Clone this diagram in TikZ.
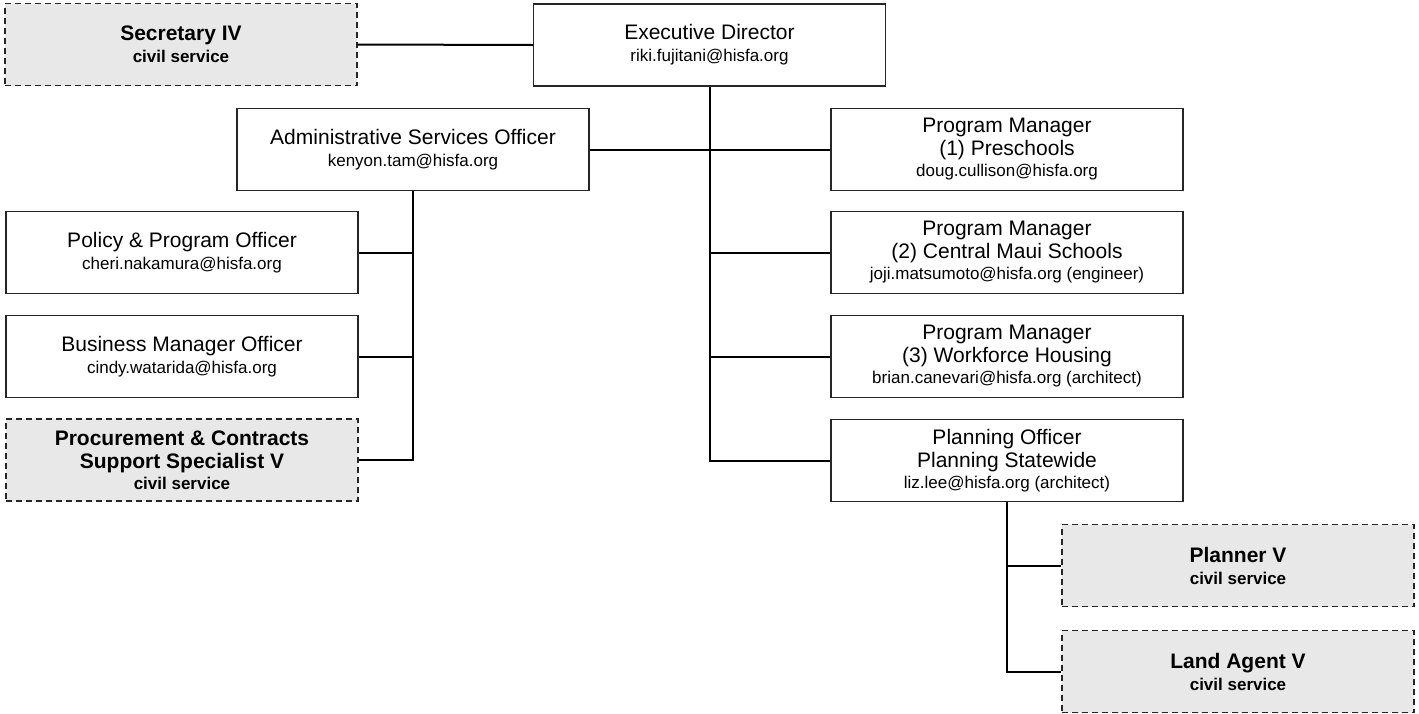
\documentclass[tikz,border=0pt]{standalone}
\usepackage{fontspec}
\setmainfont{Liberation Sans}
\usetikzlibrary{positioning}
\newcommand{\ttl}{\fontsize{21}{23}\selectfont}
\newcommand{\sml}{\fontsize{17}{20}\selectfont}
\newcommand{\mail}[1]{{\sml #1}}
\tikzset{
  orgbox/.style={draw=black!85,fill=white,line width=1.2pt,minimum width=352pt,
    minimum height=82pt,inner sep=0pt,align=center,font=\ttl},
  cvs/.style={orgbox,dash pattern=on 6pt off 4pt,fill=black!9,font=\ttl\bfseries},
  lnk/.style={draw=black,line width=2pt},
}
\begin{document}
\begin{tikzpicture}[x=1pt,y=-1pt]
\useasboundingbox (0,0) rectangle (1419,713);
% top row
\node[cvs] (sec) at (181,44.5) {Secretary IV\\[-1pt]\mail{civil service}};
\node[orgbox] (ed) at (709.5,45) {Executive Director\\[-1pt]\mail{riki.fujitani@hisfa.org}};
% second row
\node[orgbox] (aso) at (413,149.5) {Administrative Services Officer\\[-1pt]\mail{kenyon.tam@hisfa.org}};
\node[orgbox] (pm1) at (1007,149.5) {Program Manager\\(1) Preschools\\[-2pt]\mail{doug.cullison@hisfa.org}};
% left column, under the administrative officer
\node[orgbox] (ppo) at (182,252.5) {Policy \& Program Officer\\[-1pt]\mail{cheri.nakamura@hisfa.org}};
\node[orgbox] (bmo) at (182,356.5) {Business Manager Officer\\[-1pt]\mail{cindy.watarida@hisfa.org}};
\node[cvs] (pcs) at (182,460) {Procurement \& Contracts\\Support Specialist V\\[-2pt]\mail{civil service}};
% right column, under the director
\node[orgbox] (pm2) at (1007,252.5) {Program Manager\\(2) Central Maui Schools\\[-2pt]\mail{joji.matsumoto@hisfa.org (engineer)}};
\node[orgbox] (pm3) at (1007,356.5) {Program Manager\\(3) Workforce Housing\\[-2pt]\mail{brian.canevari@hisfa.org (architect)}};
\node[orgbox] (plo) at (1007,460.5) {Planning Officer\\Planning Statewide\\[-2pt]\mail{liz.lee@hisfa.org (architect)}};
% under the planning officer
\node[cvs] (plv) at (1238,565.5) {Planner V\\[-1pt]\mail{civil service}};
\node[cvs] (lav) at (1238,671.5) {Land Agent V\\[-1pt]\mail{civil service}};
% lines
\draw[lnk] (sec.east) -- (ed.west);
\draw[lnk] (ed.south) -- (ed.south |- plo.west) -- (plo.west);
\draw[lnk] (aso.east) -- (pm1.west);
\draw[lnk] (ed.south |- pm2.west) -- (pm2.west);
\draw[lnk] (ed.south |- pm3.west) -- (pm3.west);
\draw[lnk] (aso.south) -- (aso.south |- pcs.east) -- (pcs.east);
\draw[lnk] (ppo.east) -- (aso.south |- ppo.east);
\draw[lnk] (bmo.east) -- (aso.south |- bmo.east);
\draw[lnk] (plo.south) -- (plo.south |- lav.west) -- (lav.west);
\draw[lnk] (plv.west) -- (plo.south |- plv.west);
\end{tikzpicture}
\end{document}
